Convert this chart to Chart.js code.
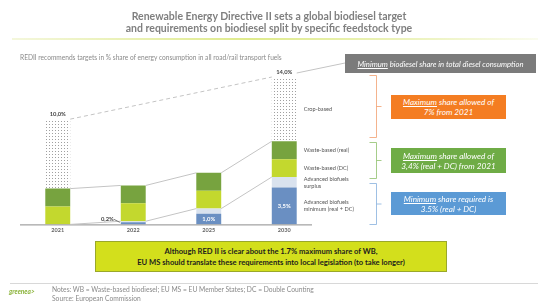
<!DOCTYPE html>
<html>
<head>
<meta charset="utf-8">
<script src="https://cdn.jsdelivr.net/npm/chart.js@4"></script>
<style>
  body { margin: 0; background: #fff; font-family: Lato, "Open Sans", sans-serif; }
  #wrap { position: relative; width: 538px; height: 304px; overflow: hidden; }
  #chart { position: absolute; left: 0; top: 0; }
  .abs { position: absolute; }
  #title { left: 0; width: 538px; top: 11px; text-align: center; color: #7f7f7f;
    font-weight: bold; font-size: 10.5px; line-height: 11.5px; }
  #rule { left: 12px; width: 526px; top: 38px; height: 2px;
    background: linear-gradient(to right, #f4f7dc, #dfeb8c 45%, #eef4c4 80%, #fafcef); }
  #sub { left: 20px; top: 53px; font-size: 6.6px; color: #8a8a8a; white-space: nowrap; }
  .box { color: #fff; font-style: italic; text-align: center; font-size: 8.2px; line-height: 10px;
    display: flex; align-items: center; justify-content: center; }
  .box u { text-decoration: underline; }
  #gray { left: 345px; top: 54px; width: 191px; height: 19px; background: #7b7b7b; font-size: 7.7px; }
  #orange { left: 391px; top: 95px; width: 115px; height: 24px; background: #f47d22; }
  #green { left: 391px; top: 148px; width: 115px; height: 25px; background: #6fac46; }
  #blue { left: 391px; top: 192px; width: 115px; height: 23px; background: #5b9ad5; }
  #yellow { left: 95px; top: 241px; width: 350px; height: 29px; background: #d3df1c;
    border: 1px solid #9aa82a; text-align: center; font-weight: bold; font-size: 7.6px;
    line-height: 11px; color: #1d1d1d; display: flex; align-items: center; justify-content: center; }
  #foot { left: 10px; width: 528px; top: 283px; height: 1px; background: #d8d8d8; }
  #logo { left: 9px; top: 288px; font-size: 6.5px; color: #8cb43c; font-style: italic; font-weight: bold; }
  #notes { left: 52px; top: 285px; font-size: 6.7px; line-height: 9px; color: #8a8a8a; white-space: nowrap; }
</style>
</head>
<body>
<div id="wrap">
  <canvas id="chart" width="538" height="304"></canvas>
  <div id="title" class="abs">Renewable Energy Directive II sets a global biodiesel target<br>and requirements on biodiesel split by specific feedstock type</div>
  <div id="rule" class="abs"></div>
  <div id="sub" class="abs">REDII recommends targets in % share of energy consumption in all road/rail transport fuels</div>
  <div id="gray" class="abs box"><span><u>Minimum</u> biodiesel share in total diesel consumption</span></div>
  <div id="orange" class="abs box"><span><u>Maximum</u> share allowed of<br>7% from 2021</span></div>
  <div id="green" class="abs box"><span><u>Maximum</u> share allowed of<br>3,4% (real + DC) from 2021</span></div>
  <div id="blue" class="abs box"><span><u>Minimum</u> share required is<br>3.5% (real + DC)</span></div>
  <div id="yellow" class="abs"><span>Although RED II is clear about the 1.7% maximum share of WB,<br>EU MS should translate these requirements into local legislation (to take longer)</span></div>
  <div id="foot" class="abs"></div>
  <div id="logo" class="abs">greenea&gt;</div>
  <div id="notes" class="abs">Notes: WB = Waste-based biodiesel; EU MS = EU Member States; DC = Double Counting<br>Source: European Commission</div>
</div>
<script>
// data (% share)
const years = ["2021", "2022", "2025", "2030"];
const advancedMin = [0, 0.2, 1.0, 3.5];
const advancedSurplus = [0, 0.1, 0.5, 1.0];
const wasteDC = [1.7, 1.7, 1.7, 1.7];
const wasteReal = [1.7, 1.7, 1.7, 1.7];
const cropBased = [6.6, 0, 0, 6.1];
const totalLabels = ["10,0%", "", "", "14,0%"];
const minLabels = ["", "0,2%", "1,0%", "3,5%"];
const sideLabels = [
  ["Advanced biofuels", "minimum (real + DC)"],
  ["Advanced biofuels", "surplus"],
  ["Waste-based (DC)"],
  ["Waste-based (real)"],
  ["Crop-based"],
];

// dotted fill for the crop-based part
const tile = document.createElement("canvas");
tile.width = 3; tile.height = 3;
const tctx = tile.getContext("2d");
tctx.fillStyle = "#fff";
tctx.fillRect(0, 0, 3, 3);
tctx.fillStyle = "#a0a0a0";
tctx.fillRect(1, 1, 1, 1);
const dots = tctx.createPattern(tile, "repeat");

const FONT = "Lato, 'Open Sans', sans-serif";

const annotations = {
  id: "annotations",
  afterDatasetsDraw(chart) {
    const ctx = chart.ctx;
    const m = (i) => chart.getDatasetMeta(i).data;
    const surplus = m(1), real = m(3), crop = m(4), minB = m(0);
    ctx.save();

    // baseline
    const base = chart.scales.y.getPixelForValue(0);
    ctx.strokeStyle = "#8c8c8c";
    ctx.lineWidth = 1;
    ctx.beginPath();
    ctx.moveTo(20, base + 0.5);
    ctx.lineTo(312, base + 0.5);
    ctx.stroke();

    // connector lines between bars
    ctx.strokeStyle = "#c4c4c4";
    ctx.lineWidth = 1;
    for (let i = 0; i < years.length - 1; i++) {
      const a = real[i], b = real[i + 1];
      ctx.beginPath();
      ctx.moveTo(a.x + a.width / 2, a.y);
      ctx.lineTo(b.x - b.width / 2, b.y);
      ctx.stroke();
      const c = surplus[i], d = surplus[i + 1];
      ctx.beginPath();
      ctx.moveTo(c.x + c.width / 2, c.y);
      ctx.lineTo(d.x - d.width / 2, d.y);
      ctx.stroke();
    }

    // dashed total line 2021 -> 2030 -> grey box
    const c0 = crop[0], c3 = crop[3];
    ctx.setLineDash([4, 3]);
    ctx.beginPath();
    ctx.moveTo(c0.x + c0.width / 2, c0.y);
    ctx.lineTo(c3.x - c3.width / 2, c3.y);
    ctx.stroke();
    ctx.setLineDash([]);
    ctx.beginPath();
    ctx.moveTo(c3.x + c3.width / 2, c3.y - 4);
    ctx.lineTo(345, 63);
    ctx.stroke();

    // total labels
    ctx.font = "bold 5.8px " + FONT;
    ctx.fillStyle = "#444";
    ctx.textAlign = "center";
    ctx.textBaseline = "bottom";
    crop.forEach((el, i) => {
      if (totalLabels[i]) ctx.fillText(totalLabels[i], el.x, el.y - 2);
    });

    // minimum labels
    minB.forEach((el, i) => {
      if (!minLabels[i]) return;
      if (advancedMin[i] < 0.5) {
        ctx.fillStyle = "#444";
        ctx.textAlign = "right";
        ctx.textBaseline = "middle";
        ctx.fillText(minLabels[i], el.x - el.width / 2 - 7, el.y - 3);
        ctx.strokeStyle = "#777";
        ctx.beginPath();
        ctx.moveTo(el.x - el.width / 2 - 7, el.y - 3);
        ctx.lineTo(el.x - el.width / 2 - 1, el.y);
        ctx.stroke();
      } else {
        ctx.fillStyle = "#fff";
        ctx.textAlign = "center";
        ctx.textBaseline = "middle";
        ctx.fillText(minLabels[i], el.x, (el.y + el.base) / 2);
      }
    });

    // labels beside the 2030 bar
    ctx.font = "5.6px " + FONT;
    ctx.fillStyle = "#555";
    ctx.textAlign = "left";
    ctx.textBaseline = "middle";
    sideLabels.forEach((lines, di) => {
      const el = m(di)[3];
      const mid = (el.y + el.base) / 2;
      const x = el.x + el.width / 2 + 7;
      lines.forEach((t, k) => {
        ctx.fillText(t, x, mid + (k - (lines.length - 1) / 2) * 7);
      });
    });

    // brackets
    const brace = (x, y1, y2, color) => {
      ctx.strokeStyle = color;
      ctx.lineWidth = 0.8;
      ctx.beginPath();
      ctx.moveTo(x - 7, y1);
      ctx.lineTo(x, y1);
      ctx.lineTo(x, y2);
      ctx.lineTo(x - 7, y2);
      ctx.moveTo(x, (y1 + y2) / 2);
      ctx.lineTo(x + 5, (y1 + y2) / 2);
      ctx.stroke();
    };
    brace(376.5, 75.5, 137.5, "#f1a070");
    brace(376.5, 142.5, 178.5, "#8fc06c");
    brace(376.5, 183.5, 224.5, "#86b0dd");

    ctx.restore();
  },
};

new Chart(document.getElementById("chart"), {
  type: "bar",
  data: {
    labels: years,
    datasets: [
      { label: "Advanced biofuels minimum (real + DC)", data: advancedMin, backgroundColor: "#6a8fc2" },
      { label: "Advanced biofuels surplus", data: advancedSurplus, backgroundColor: "#d9e2ee" },
      { label: "Waste-based (DC)", data: wasteDC, backgroundColor: "#c3d82e" },
      { label: "Waste-based (real)", data: wasteReal, backgroundColor: "#77a33f" },
      { label: "Crop-based", data: cropBased, backgroundColor: dots },
    ],
  },
  options: {
    responsive: false,
    devicePixelRatio: 1,
    animation: false,
    datasets: { bar: { categoryPercentage: 1, barPercentage: 0.33, borderWidth: 0 } },
    layout: { padding: { left: 20, right: 216, top: 66.5, bottom: 67 } },
    plugins: { legend: { display: false }, tooltip: { enabled: false } },
    scales: {
      x: {
        stacked: true,
        grid: { display: false, drawTicks: false },
        border: { display: false },
        ticks: { color: "#666", padding: 3, font: { size: 5.5, weight: "bold", family: FONT } },
      },
      y: { stacked: true, display: false, min: 0, max: 15 },
    },
  },
  plugins: [annotations],
});
</script>
</body>
</html>
